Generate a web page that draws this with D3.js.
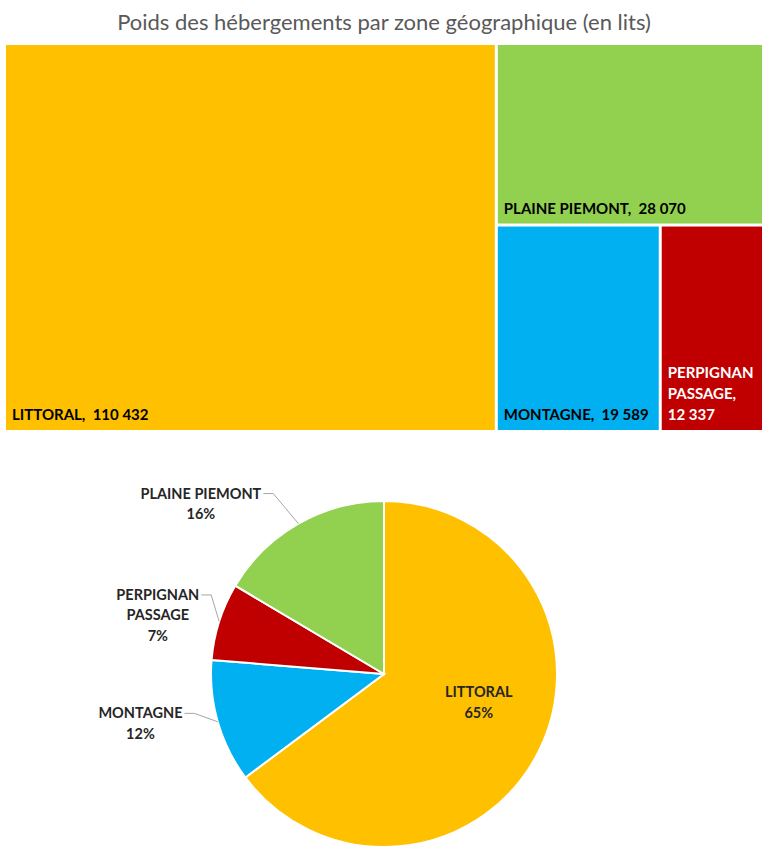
<!DOCTYPE html>
<html>
<head>
<meta charset="utf-8">
<script src="https://cdn.jsdelivr.net/npm/d3@7"></script>
<style>
  body { margin: 0; background: #fff; }
  svg { display: block; font-family: Lato, "Open Sans", sans-serif; }
</style>
</head>
<body>
<svg id="chart" width="770" height="855"></svg>
<script>
const titleText = "Poids des hébergements par zone géographique (en lits)";
const zones = ["LITTORAL", "MONTAGNE", "PERPIGNAN PASSAGE", "PLAINE PIEMONT"];
const lits = [110432, 19589, 12337, 28070];
const zoneColors = ["#FFC000", "#00B0F0", "#C00000", "#92D050"];
const zoneTextColors = ["#000", "#000", "#fff", "#000"];

const svg = d3.select("#chart");
const fr = d3.formatLocale({decimal: ",", thousands: " ", grouping: [3], currency: ["", " €"]});
const fmtLits = fr.format(",d");
const rows = zones.map((z, i) => ({name: z, value: lits[i], i: i}));
const total = d3.sum(lits);

// whole percents that add up to 100 (largest remainder), like excel shows them
const rawPct = lits.map(v => v / total * 100);
const pct = rawPct.map(Math.floor);
d3.range(lits.length)
    .sort((a, b) => (rawPct[b] - pct[b]) - (rawPct[a] - pct[a]))
    .slice(0, 100 - d3.sum(pct))
    .forEach(k => pct[k] += 1);

// little helper: greedy wrap of tokens into lines narrower than maxW
function wrapTokens(textSel, tokens, seps, maxW) {
    const probe = textSel.append("tspan");
    const w = s => { probe.text(s); return probe.node().getComputedTextLength(); };
    const lines = [];
    let cur = tokens[0];
    for (let k = 1; k < tokens.length; k++) {
        const test = cur + seps[k] + tokens[k];
        if (w(test) <= maxW) cur = test;
        else { lines.push(cur); cur = tokens[k]; }
    }
    lines.push(cur);
    probe.remove();
    return lines;
}

// title
svg.append("text")
    .attr("x", 384)
    .attr("y", 30)
    .attr("text-anchor", "middle")
    .attr("fill", "#595959")
    .style("font-size", "22px")
    .text(titleText);

// ---- treemap ----
const tmW = 756, tmH = 385;
const root = d3.hierarchy({children: rows})
    .sum(d => d.value || 0)
    .sort((a, b) => b.value - a.value);

d3.treemap()
    .tile(d3.treemapBinary)
    .size([tmW, tmH])
    .paddingInner(3)(root);

const tm = svg.append("g").attr("transform", "translate(6,45)");

const cells = tm.selectAll("g.cell")
    .data(root.leaves())
    .join("g")
    .attr("class", "cell")
    .attr("transform", d => `translate(${d.x0},${d.y0})`);

cells.append("rect")
    .attr("width", d => d.x1 - d.x0)
    .attr("height", d => d.y1 - d.y0)
    .attr("fill", d => zoneColors[d.data.i]);

cells.each(function(d) {
    const words = d.data.name.split(" ");
    words[words.length - 1] += ",";
    const tokens = words.concat([fmtLits(d.value)]);
    const seps = tokens.map((t, k) => k == tokens.length - 1 ? "  " : " ");
    const t = d3.select(this).append("text")
        .attr("fill", zoneTextColors[d.data.i])
        .style("font-size", "15px")
        .style("font-weight", "bold")
        .style("white-space", "pre");
    const lines = wrapTokens(t, tokens, seps, d.x1 - d.x0 - 10);
    const h = d.y1 - d.y0;
    t.selectAll("tspan")
        .data(lines)
        .join("tspan")
        .attr("x", 6)
        .attr("y", (l, k) => h - 10 - (lines.length - 1 - k) * 21)
        .text(l => l);
});

// ---- pie ----
const R = 173;
const pg = svg.append("g").attr("transform", "translate(384,674)");
const pie = d3.pie().sort(null).value(d => d.value);
const arcs = pie(rows);
const arc = d3.arc().innerRadius(0).outerRadius(R);

pg.selectAll("path.slice")
    .data(arcs)
    .join("path")
    .attr("class", "slice")
    .attr("d", arc)
    .attr("fill", d => zoneColors[d.data.i])
    .attr("stroke", "#fff")
    .attr("stroke-width", 2);

// label tweaks (excel "best fit" moved them a bit)
const labelShift = {
    "LITTORAL": [2, -18],
    "MONTAGNE": [10, -18],
    "PERPIGNAN PASSAGE": [25, -16],
    "PLAINE PIEMONT": [-8, 0]
};
const midA = d => (d.startAngle + d.endAngle) / 2;
const polar = (a, r) => [Math.sin(a) * r, -Math.cos(a) * r];

arcs.forEach(d => {
    const inside = (d.endAngle - d.startAngle) > 1.5;
    const sh = labelShift[d.data.name];
    const t = pg.append("text")
        .attr("fill", "#262626")
        .attr("text-anchor", "middle")
        .style("font-size", "14.5px")
        .style("font-weight", "bold");
    const words = d.data.name.split(" ");
    const lines = wrapTokens(t, words, words.map(() => " "), 130)
        .concat([pct[d.data.i] + "%"]);
    const lh = 20.5;
    let cx, cy;
    if (inside) {
        const c = d3.arc().innerRadius(R * 0.6).outerRadius(R * 0.6).centroid(d);
        cx = c[0] + sh[0];
        cy = c[1] + sh[1] - (lines.length - 1) * lh / 2;
    } else {
        const e = polar(midA(d), R * 1.2);
        const ex = e[0] + sh[0], ey = e[1] + sh[1];
        const edge = polar(midA(d), R);
        // measure first line
        const tmp = t.append("tspan").text(lines[0]);
        const w0 = tmp.node().getComputedTextLength();
        tmp.remove();
        cx = ex - 12 - w0 / 2;
        cy = ey;
        pg.append("polyline")
            .attr("points", [[ex - 10, ey], [ex, ey], edge].map(p => p.join(",")).join(" "))
            .attr("fill", "none")
            .attr("stroke", "#a6a6a6")
            .attr("stroke-width", 1);
    }
    t.selectAll("tspan")
        .data(lines)
        .join("tspan")
        .attr("x", cx)
        .attr("y", (l, k) => cy + 5 + k * lh)
        .text(l => l);
});
</script>
</body>
</html>
